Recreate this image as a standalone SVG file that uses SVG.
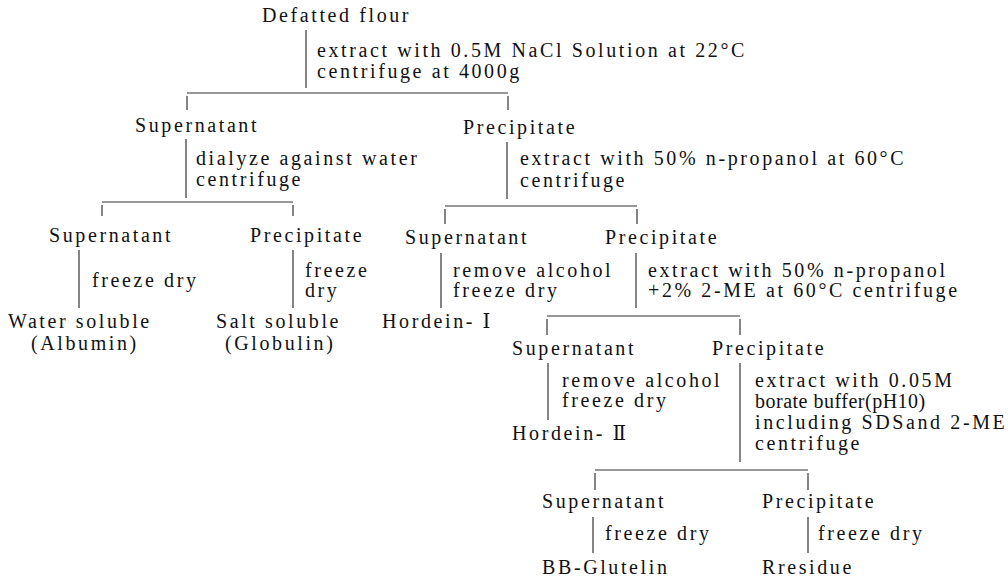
<svg xmlns="http://www.w3.org/2000/svg" width="1008" height="578" viewBox="0 0 1008 578">
<style>
text{font-size:20px;letter-spacing:2.6px;fill:#111}
.tight{letter-spacing:0.5px}
line{stroke:#333;stroke-width:1.2}
</style>
<rect width="1008" height="578" fill="#fff"/>
<g id="connectors">
<line x1="306" y1="30" x2="306" y2="88"/>
<line x1="187" y1="93" x2="508" y2="93"/>
<line x1="187" y1="96" x2="187" y2="110"/>
<line x1="508" y1="96" x2="508" y2="110"/>
<line x1="186" y1="139" x2="186" y2="198"/>
<line x1="102" y1="202" x2="293" y2="202"/>
<line x1="102" y1="205" x2="102" y2="216"/>
<line x1="293" y1="205" x2="293" y2="216"/>
<line x1="507" y1="142" x2="507" y2="199"/>
<line x1="445" y1="206" x2="637" y2="206"/>
<line x1="445" y1="209" x2="445" y2="224"/>
<line x1="637" y1="209" x2="637" y2="224"/>
<line x1="79" y1="250" x2="79" y2="308"/>
<line x1="293" y1="250" x2="293" y2="308"/>
<line x1="441" y1="253" x2="441" y2="308"/>
<line x1="636" y1="253" x2="636" y2="308"/>
<line x1="547" y1="316" x2="740" y2="316"/>
<line x1="547" y1="319" x2="547" y2="335"/>
<line x1="740" y1="319" x2="740" y2="335"/>
<line x1="548" y1="363" x2="548" y2="420"/>
<line x1="740" y1="363" x2="740" y2="462"/>
<line x1="595" y1="470" x2="808" y2="470"/>
<line x1="595" y1="473" x2="595" y2="490"/>
<line x1="808" y1="473" x2="808" y2="490"/>
<line x1="593" y1="517" x2="593" y2="553"/>
<line x1="808" y1="517" x2="808" y2="553"/>
</g>
<g font-family="Liberation Serif, serif">
<g id="step-labels">
<text x="317" y="57">extract with 0.5M NaCl Solution at 22°C</text>
<text x="317" y="78">centrifuge at 4000g</text>
<text x="196" y="165">dialyze against water</text>
<text x="196" y="186">centrifuge</text>
<text x="520" y="165">extract with 50% n-propanol at 60°C</text>
<text x="520" y="187">centrifuge</text>
<text x="92" y="287">freeze dry</text>
<text x="305" y="277">freeze</text>
<text x="305" y="297">dry</text>
<text x="453" y="277">remove alcohol</text>
<text x="453" y="297">freeze dry</text>
<text x="648" y="277">extract with 50% n-propanol</text>
<text x="648" y="297">+2% 2-ME at 60°C centrifuge</text>
<text x="562" y="387">remove alcohol</text>
<text x="562" y="407">freeze dry</text>
<text x="755" y="387">extract with 0.05M</text>
<text x="755" y="408" class="tight">borate buffer(pH10)</text>
<text x="755" y="429">including SDSand 2-ME</text>
<text x="755" y="450">centrifuge</text>
<text x="605" y="540">freeze dry</text>
<text x="818" y="540">freeze dry</text>
</g>
<g id="defatted-flour"><text x="262" y="22">Defatted flour</text></g>
<g id="supernatant-1"><text x="135" y="132">Supernatant</text></g>
<g id="precipitate-1"><text x="463" y="134">Precipitate</text></g>
<g id="supernatant-2a"><text x="49" y="242">Supernatant</text></g>
<g id="precipitate-2a"><text x="250" y="242">Precipitate</text></g>
<g id="supernatant-2b"><text x="405" y="244">Supernatant</text></g>
<g id="precipitate-2b"><text x="605" y="244">Precipitate</text></g>
<g id="water-soluble"><text x="8" y="328">Water soluble</text><text x="31" y="350">(Albumin)</text></g>
<g id="salt-soluble"><text x="216" y="328">Salt soluble</text><text x="225" y="350">(Globulin)</text></g>
<g id="hordein-1"><text x="382" y="328">Hordein- <tspan font-family="DejaVu Serif, serif" letter-spacing="0">Ⅰ</tspan></text></g>
<g id="supernatant-3"><text x="512" y="355">Supernatant</text></g>
<g id="precipitate-3"><text x="712" y="355">Precipitate</text></g>
<g id="hordein-2"><text x="512" y="440">Hordein- <tspan font-family="DejaVu Serif, serif" letter-spacing="0">Ⅱ</tspan></text></g>
<g id="supernatant-4"><text x="542" y="508">Supernatant</text></g>
<g id="precipitate-4"><text x="762" y="508">Precipitate</text></g>
<g id="bb-glutelin"><text x="542" y="574">BB-Glutelin</text></g>
<g id="residue"><text x="762" y="574">Rresidue</text></g>
</g>
</svg>
